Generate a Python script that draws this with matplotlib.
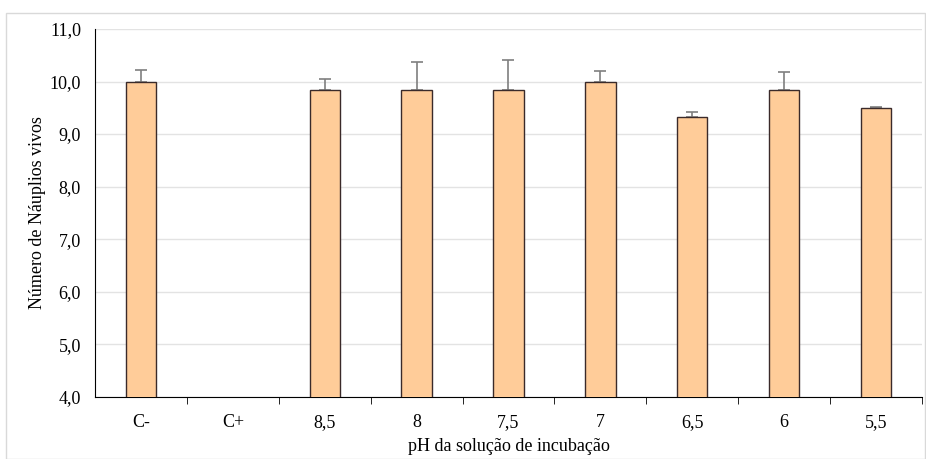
import matplotlib.pyplot as plt
from matplotlib.patches import Rectangle
from matplotlib.ticker import FixedLocator, FuncFormatter

categories = ["C-", "C+", "8,5", "8", "7,5", "7", "6,5", "6", "5,5"]
means = [10.0, 0.0, 9.83, 9.83, 9.83, 10.0, 9.33, 9.83, 9.5]
errors = [0.22, 0.0, 0.21, 0.55, 0.57, 0.2, 0.09, 0.35, 0.02]
yticks = [4, 5, 6, 7, 8, 9, 10, 11]

plt.rcParams["font.family"] = ["Liberation Serif", "DejaVu Serif"]

fig = plt.figure(figsize=(9.26, 4.59), dpi=100)
ax = fig.add_axes([0.1026, 0.135, 0.893, 0.802])

# moldura cinza clara
fig.patches.append(Rectangle((0.007, 0.0), 0.992, 0.972, transform=fig.transFigure,
                             fill=False, edgecolor="#d9d9d9", linewidth=1))

x = list(range(len(categories)))
ax.bar(x, means, width=0.33, color="#FFCC99", edgecolor="#3a2a2a", linewidth=1,
       zorder=3)
ax.errorbar(x, means, yerr=[[0] * len(errors), errors], fmt="none",
            ecolor="#7f7f7f", elinewidth=1.2, capsize=4, capthick=1.2, zorder=2)

ax.set_xlim(-0.5, len(categories) - 0.5)
ax.set_ylim(4, 11)
ax.set_yticks(yticks)
ax.yaxis.set_major_formatter(FuncFormatter(lambda v, p: f"{v:.1f}".replace(".", ",")))
ax.grid(axis="y", color="#e3e3e3", linewidth=1, zorder=0)

ax.set_xticks(x)
ax.set_xticklabels(categories)
ax.xaxis.set_minor_locator(FixedLocator([i + 0.5 for i in x]))
ax.tick_params(axis="x", which="major", length=0, pad=12, labelsize=13)
ax.tick_params(axis="x", which="minor", length=5, direction="out", color="black")
ax.tick_params(axis="y", length=0, pad=10, labelsize=13)

for s in ["top", "right"]:
    ax.spines[s].set_visible(False)
ax.spines["left"].set_color("black")
ax.spines["bottom"].set_color("black")

ax.set_xlabel("pH da solução de incubação", fontsize=13, labelpad=5)
ax.set_ylabel("Número de Náuplios vivos", fontsize=13, labelpad=3)

fig.savefig("out.png", dpi=100)
